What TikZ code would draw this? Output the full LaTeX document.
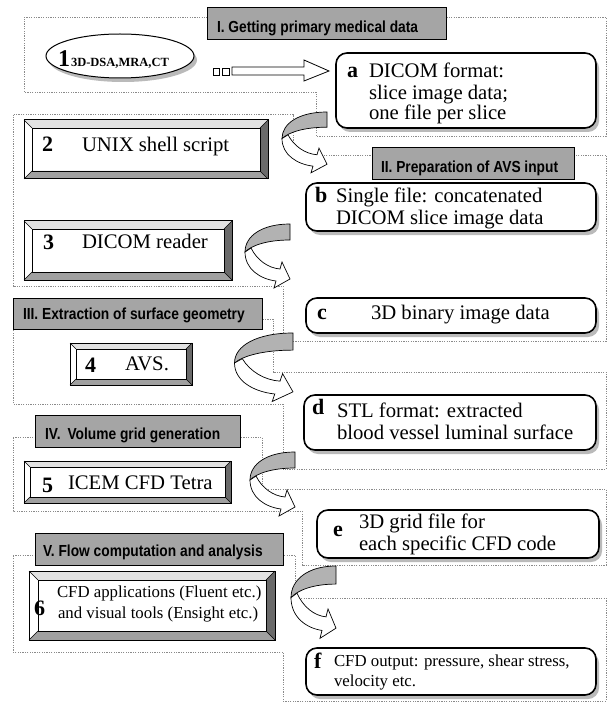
\documentclass[tikz,border=0pt]{standalone}
\usepackage{fontspec}
\setmainfont{Liberation Serif}
\newfontfamily\ttlfont[FakeStretch=0.86]{Liberation Sans}
\usetikzlibrary{shapes.geometric,calc,shadows}
\definecolor{titlegray}{HTML}{A5A5A5}
\definecolor{dotgray}{HTML}{8A8A8A}
\definecolor{bevtop}{HTML}{E2E2E2}
\definecolor{bevright}{HTML}{6A6A6A}
\definecolor{bevbot}{HTML}{A0A0A0}
\definecolor{arrgray}{HTML}{B2B2B2}
\newcommand\txtL{\fontsize{20.7}{24}\selectfont}
\newcommand\txtS{\fontsize{16.8}{20}\selectfont}
\newcommand\txtT{\ttlfont\bfseries\fontsize{16}{19}\selectfont}
\newcommand\txtB{\bfseries\fontsize{22}{24}\selectfont}
\newcommand\bevelfill[2]{%
 \fill[bevtop] (#1.north west) -- (#1.north east) -- ($(#1.north east)+(-#2,#2)$) -- ($(#1.north west)+(#2,#2)$) -- cycle;
 \fill[bevright] (#1.north east) -- (#1.south east) -- ($(#1.south east)+(-#2,-#2)$) -- ($(#1.north east)+(-#2,#2)$) -- cycle;
 \fill[bevbot] (#1.south west) -- (#1.south east) -- ($(#1.south east)+(-#2,-#2)$) -- ($(#1.south west)+(#2,-#2)$) -- cycle;
 \draw[line width=0.8pt] ($(#1.north west)+(#2,#2)$) rectangle ($(#1.south east)+(-#2,-#2)$);
 \draw[line width=0.5pt] (#1.north west) -- ++(#2,#2) (#1.north east) -- ++(-#2,#2) (#1.south west) -- ++(#2,-#2) (#1.south east) -- ++(-#2,-#2);
 \draw[line width=1pt] (#1.north west) rectangle (#1.south east);
}
\tikzset{
 section/.style={draw=dotgray, line width=0.7pt, dash pattern=on 1.2pt off 1.2pt},
 titlebox/.style={draw=black, line width=0.8pt, fill=titlegray, anchor=north west, inner sep=0pt, outer sep=0pt},
 txt/.style={inner sep=0pt, outer sep=0pt, anchor=base west},
 outbox/.style={draw=black, line width=1.6pt, fill=white, rounded corners=11pt, anchor=north west, inner sep=0pt, outer sep=0pt,
   drop shadow={shadow xshift=3pt, shadow yshift=-4pt, opacity=1, fill=black!27}},
 bevnode/.style={fill=white, anchor=north west, inner sep=0pt, outer sep=0pt},
 curvarr/.pic={
  \filldraw[fill=arrgray, draw=black, line width=0.7pt] (0,0) .. controls (-28,0) and (-45,12) .. (-45,28) .. controls (-38,21) and (-22,16) .. (0,16) -- cycle;
  \filldraw[fill=white, draw=black, line width=0.7pt] (-45,28) .. controls (-45,45) and (-30,55) .. (-14,57) -- (-16,64) -- (0,55) -- (-8,38) -- (-10,45) .. controls (-22,44) and (-33,36) .. (-39,24) -- cycle;
 }
}
\begin{document}
\begin{tikzpicture}[x=1pt,y=-1pt]
\useasboundingbox (0,0) rectangle (608,703);
\fill[white] (0,0) rectangle (608,703);
% sections
\draw[section] (24,17) -- (606,17) -- (606,136) -- (316,136) -- (316,92) -- (24,92) -- cycle;
\draw[section] (293,155) -- (293,114) -- (13,114) -- (13,286) -- (283,286) -- (283,341) -- (606,341) -- (606,155) -- cycle;
\draw[section] (13,319) -- (273,319) -- (273,372) -- (606,372) -- (606,469) -- (283,469) -- (283,404) -- (13,404) -- cycle;
\draw[section] (13,437) -- (262,437) -- (262,489) -- (606,489) -- (606,565) -- (302,565) -- (302,511) -- (13,511) -- cycle;
\draw[section] (13,555) -- (295,555) -- (295,598) -- (606,598) -- (606,701) -- (283,701) -- (283,652) -- (13,652) -- cycle;
% titles
\node[titlebox, minimum width=239pt, minimum height=32pt] (t1) at (207,7) {};
\node[titlebox, minimum width=202pt, minimum height=32pt] (t2) at (372,147) {};
\node[titlebox, minimum width=249pt, minimum height=31pt] (t3) at (13,298) {};
\node[titlebox, minimum width=205pt, minimum height=32pt] (t4) at (35,415) {};
\node[titlebox, minimum width=248pt, minimum height=32pt] (t5) at (35,533) {};
\node[txt] (t1x) at (217,33) {\txtT I. Getting primary medical data};
\node[txt] (t2x) at (381,173) {\txtT II. Preparation of AVS input};
\node[txt] (t3x) at (23,319) {\txtT III. Extraction of surface geometry};
\node[txt] (t4x) at (45,439) {\txtT IV.\hspace{7pt}Volume grid generation};
\node[txt] (t5x) at (43,556) {\txtT V. Flow computation and analysis};
% ellipse 1
\node[ellipse, draw=black, line width=1pt, fill=white, minimum width=148pt, minimum height=44pt, inner sep=0pt,
  drop shadow={shadow xshift=3pt, shadow yshift=-4pt, opacity=1, fill=black!27}] (e1) at (120,56) {};
\node[txt] (e1n) at (58,67) {\bfseries\fontsize{24}{24}\selectfont 1};
\node[txt] (e1s) at (71,67) {\bfseries\fontsize{12.5}{14}\selectfont 3D-DSA,MRA,CT};
% hollow arrow 1 -> a
\draw[line width=0.7pt, fill=white] (213,68) rectangle (219,75);
\draw[line width=0.7pt, fill=white] (222,68) rectangle (229,75);
\draw[line width=0.8pt, fill=white] (232,67) -- (304,67) -- (304,60) -- (329,71) -- (304,81) -- (304,75) -- (232,75) -- cycle;
% bevel boxes
\node[bevnode, minimum width=244pt, minimum height=59pt] (box2) at (24,120) {};
\bevelfill{box2}{8}
\node[bevnode, minimum width=208pt, minimum height=59pt] (box3) at (24,221) {};
\bevelfill{box3}{8}
\node[bevnode, minimum width=122pt, minimum height=42pt] (box4) at (70,343) {};
\bevelfill{box4}{6}
\node[bevnode, minimum width=207pt, minimum height=42pt] (box5) at (24,461) {};
\bevelfill{box5}{6}
\node[bevnode, minimum width=246pt, minimum height=69pt] (box6) at (29,571) {};
\bevelfill{box6}{9}
% output boxes
\node[outbox, minimum width=260pt, minimum height=75pt] (a) at (336,53) {};
\node[outbox, minimum width=290pt, minimum height=48pt] (b) at (306,183) {};
\node[outbox, minimum width=290pt, minimum height=35pt] (c) at (306,298) {};
\node[outbox, minimum width=292pt, minimum height=55pt] (d) at (304,395) {};
\node[outbox, minimum width=282pt, minimum height=48pt] (e) at (317,510) {};
\node[outbox, minimum width=290pt, minimum height=47pt] (f) at (306,648) {};
% curved arrows
\pic[yscale=0.95] at (327,112) {curvarr};
\pic at (290,224) {curvarr};
\pic[xscale=1.3, yscale=1.07] at (293,333) {curvarr};
\pic at (295,452) {curvarr};
\pic[yscale=1.13] at (336,566) {curvarr};
% box texts
\node[txt] (n2) at (42,152) {\txtB 2};
\node[txt] (n2t) at (82,152) {\txtL UNIX shell script};
\node[txt] (n3) at (43,249) {\txtB 3};
\node[txt] (n3t) at (82,248) {\txtL DICOM reader};
\node[txt] (n4) at (85,372) {\txtB 4};
\node[txt] (n4t) at (125,370) {\txtL AVS.};
\node[txt] (n5) at (42,492) {\txtB 5};
\node[txt] (n5t) at (68,489) {\txtL ICEM CFD Tetra};
\node[txt] (n6) at (34,615) {\txtB 6};
\node[txt] (n6a) at (57,597) {\txtS CFD applications (Fluent etc.)};
\node[txt] (n6b) at (58,618) {\txtS and visual tools (Ensight etc.)};
\node[txt] (la) at (347,78) {\txtB a};
\node[txt] (la1) at (369,78) {\txtL DICOM format:};
\node[txt] (la2) at (369,100) {\txtL slice image data;};
\node[txt] (la3) at (369,120) {\txtL one file per slice};
\node[txt] (lb) at (315,203) {\txtB b};
\node[txt] (lb1) at (336,203) {\txtL Single file: concatenated};
\node[txt] (lb2) at (336,225) {\txtL DICOM slice image data};
\node[txt] (lc) at (317,319) {\txtB c};
\node[txt] (lc1) at (371,319) {\txtL 3D binary image data};
\node[txt] (ld) at (312,414) {\txtB d};
\node[txt] (ld1) at (337,417) {\txtL STL format: extracted};
\node[txt] (ld2) at (337,439) {\txtL blood vessel luminal surface};
\node[txt] (le) at (333,536) {\txtB e};
\node[txt] (le1) at (359,528) {\txtL 3D grid file for};
\node[txt] (le2) at (359,550) {\txtL each specific CFD code};
\node[txt] (lf) at (314,668) {\txtB f};
\node[txt] (lf1) at (334,666) {\txtS CFD output: pressure, shear stress,};
\node[txt] (lf2) at (334,686) {\txtS velocity etc.};
\end{tikzpicture}
\end{document}
